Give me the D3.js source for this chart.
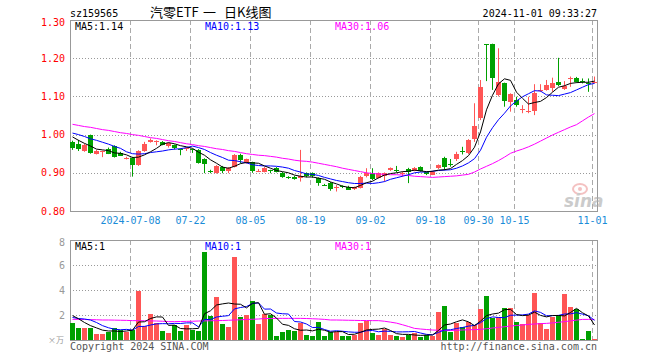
<!DOCTYPE html>
<html><head><meta charset="utf-8">
<script src="https://cdn.jsdelivr.net/npm/d3@7"></script>
<style>
html,body{margin:0;padding:0;background:#fff;}
svg{display:block;}
text{font-family:"DejaVu Sans Mono",monospace;}
</style></head><body>
<svg id="c" width="660" height="360"></svg>
<script>
const dates = ["06-24","06-25","06-26","06-27","06-28","07-01","07-02","07-03","07-04","07-05",
"07-08","07-09","07-10","07-11","07-12","07-15","07-16","07-17","07-18","07-19",
"07-22","07-23","07-24","07-25","07-26","07-29","07-30","07-31","08-01","08-02",
"08-05","08-06","08-07","08-08","08-09","08-12","08-13","08-14","08-15","08-16",
"08-19","08-20","08-21","08-22","08-23","08-26","08-27","08-28","08-29","08-30",
"09-02","09-03","09-04","09-05","09-06","09-09","09-10","09-11","09-12","09-13",
"09-18","09-19","09-20","09-23","09-24","09-25","09-26","09-27","09-30","10-08",
"10-09","10-10","10-11","10-14","10-15","10-16","10-17","10-18","10-21","10-22",
"10-23","10-24","10-25","10-28","10-29","10-30","10-31","11-01"];
const open  = [.981,.975,.958,.999,.950,.954,.963,.970,.953,.937,.938,.920,.957,.981,.980,.981,.968,.972,.962,.962,
.961,.960,.936,.904,.900,.916,.906,.916,.947,.926,.927,.904,.903,.907,.913,.900,.889,.890,.886,.899,
.899,.886,.869,.874,.861,.865,.864,.857,.861,.890,.899,.887,.890,.907,.908,.898,.910,.906,.915,.901,
.896,.912,.940,.923,.934,.956,.951,.988,1.043,1.236,1.237,1.104,1.134,1.086,1.091,1.066,1.061,1.062,1.116,1.117,
1.121,1.138,1.121,1.147,1.149,1.140,1.135,1.137];
const high  = [.984,.986,.976,1.000,.960,.958,.966,.972,.955,.942,.942,.959,.981,.990,.985,.983,.979,.974,.964,.966,
.963,.962,.938,.908,.920,.918,.915,.949,.950,.937,.929,.910,.915,.908,.915,.902,.891,.892,.960,.901,
.901,.888,.871,.876,.868,.867,.866,.864,.892,.912,.912,.901,.901,.914,.918,.903,.913,.915,.917,.903,
.905,.922,.942,.936,.955,.968,.988,1.082,1.143,1.237,1.238,1.226,1.136,1.108,1.099,1.077,1.099,1.132,1.132,1.143,
1.149,1.201,1.140,1.152,1.151,1.147,1.147,1.152];
const low   = [.960,.957,.955,.950,.948,.941,.949,.940,.944,.935,.890,.918,.955,.979,.972,.972,.966,.961,.946,.957,
.952,.924,.899,.899,.898,.899,.899,.914,.925,.924,.900,.902,.901,.899,.901,.887,.884,.882,.877,.888,
.887,.866,.866,.853,.851,.860,.855,.855,.859,.888,.881,.885,.877,.905,.901,.890,.873,.904,.903,.894,
.894,.910,.907,.916,.931,.948,.949,.981,1.038,1.140,1.117,1.100,1.073,1.060,1.073,1.056,1.056,1.051,1.112,1.115,
1.112,1.127,1.117,1.125,1.136,1.134,1.112,1.134];
const close = [.965,.963,.974,.951,.958,.956,.951,.942,.946,.939,.920,.957,.975,.986,.982,.974,.977,.963,.960,.964,
.958,.925,.922,.903,.918,.906,.913,.947,.934,.935,.903,.906,.913,.905,.903,.890,.888,.884,.892,.890,
.890,.874,.868,.859,.862,.864,.857,.862,.890,.899,.883,.899,.899,.912,.907,.900,.901,.913,.905,.896,
.903,.920,.916,.922,.948,.955,.986,1.023,1.125,1.234,1.147,1.138,1.086,1.106,1.077,1.067,1.063,1.108,1.118,1.130,
1.134,1.130,1.128,1.149,1.138,1.138,1.133,1.139];
const volume = [1.39,0.99,0.99,0.99,0.48,0.48,0.67,0.99,0.80,0.67,0.80,3.92,1.10,2.10,1.35,0.72,0.59,1.20,0.72,1.20,
0.80,0.72,7.07,1.92,3.47,1.28,1.07,6.67,1.81,2.00,3.15,1.28,2.05,2.00,0.32,0.67,0.80,0.72,1.39,0.40,
0.32,1.47,0.32,0.62,0.67,0.32,0.32,0.40,1.39,1.55,0.59,0.40,0.85,0.40,0.32,0.27,0.40,0.59,0.27,0.40,
0.32,2.27,2.72,0.67,1.33,1.07,1.47,1.20,2.48,3.52,1.73,1.81,2.59,2.59,1.47,1.28,2.00,3.79,1.33,0.85,
1.81,2.00,3.68,2.67,2.48,0.05,0.72,0.08];
const ma5 = [.994,.985,.977,.970,.962,.960,.958,.952,.951,.947,.940,.941,.947,.955,.964,.975,.979,.976,.971,.968,
.964,.954,.946,.934,.925,.915,.912,.917,.924,.927,.926,.925,.918,.912,.906,.903,.900,.894,.891,.889,
.889,.886,.883,.876,.871,.865,.862,.861,.867,.874,.878,.887,.894,.898,.900,.903,.904,.907,.905,.903,
.904,.907,.908,.911,.922,.932,.945,.967,1.007,1.065,1.103,1.133,1.146,1.142,1.111,1.095,1.080,1.084,1.087,1.097,
1.111,1.124,1.128,1.134,1.136,1.137,1.137,1.140];
const ma10 = [1.004,1.000,.995,.989,.985,.980,.975,.969,.964,.955,.950,.949,.950,.953,.955,.957,.960,.962,.963,.966,
.970,.966,.961,.953,.946,.940,.933,.932,.929,.926,.921,.919,.918,.918,.917,.915,.912,.906,.902,.897,
.896,.893,.888,.884,.880,.877,.874,.872,.872,.873,.872,.874,.877,.883,.887,.891,.895,.900,.902,.902,
.904,.906,.907,.908,.912,.918,.926,.937,.959,.993,1.018,1.039,1.056,1.075,1.088,1.099,1.107,1.115,1.114,1.104,
1.103,1.102,1.106,1.110,1.117,1.124,1.131,1.134];
const ma30 = [1.027,1.024,1.021,1.019,1.016,1.013,1.011,1.008,1.005,1.003,1.000,.998,.995,.992,.990,.987,.984,.982,.979,.976,
.974,.971,.969,.966,.963,.961,.958,.956,.953,.950,.948,.946,.945,.943,.941,.938,.936,.933,.931,.930,
.928,.925,.922,.919,.916,.912,.909,.906,.903,.900,.898,.897,.896,.895,.895,.894,.893,.891,.890,.889,
.888,.889,.890,.891,.892,.894,.896,.902,.910,.917,.924,.932,.941,.951,.957,.962,.968,.975,.983,.991,
.999,1.006,1.013,1.020,1.026,1.036,1.046,1.055];
const volMa5 = [1.95,1.70,1.40,1.15,0.97,0.79,0.72,0.72,0.68,0.72,0.79,1.44,1.46,1.72,1.85,1.84,1.17,1.19,0.92,0.89,
0.90,0.93,2.10,2.34,2.80,2.89,2.96,2.88,2.86,2.57,2.94,2.98,2.06,2.10,1.76,1.26,1.17,0.90,0.78,0.80,
0.73,0.86,0.78,0.62,0.67,0.67,0.44,0.46,0.62,0.80,0.85,0.87,0.96,0.76,0.51,0.45,0.45,0.40,0.37,0.39,
0.40,0.77,1.20,1.28,1.46,1.61,1.45,1.15,1.51,1.95,2.08,2.15,2.43,2.45,2.04,1.95,1.99,2.23,1.97,1.85,
1.96,1.96,1.93,2.20,2.53,2.18,1.92,1.20];
const volMa10 = [1.80,1.72,1.68,1.60,1.40,1.15,0.98,0.86,0.82,0.85,0.79,1.08,1.09,1.20,1.29,1.31,1.30,1.33,1.32,1.37,
1.37,1.05,1.65,1.63,1.84,1.90,1.95,2.49,2.60,2.68,2.92,2.97,2.47,2.48,2.16,2.10,2.08,1.48,1.44,1.28,
1.00,1.01,0.84,0.70,0.74,0.70,0.65,0.62,0.62,0.74,0.76,0.66,0.71,0.69,0.65,0.65,0.66,0.68,0.56,0.45,
0.42,0.61,0.80,0.82,0.92,1.00,1.11,1.17,1.39,1.71,1.85,1.80,1.79,1.98,1.99,2.01,2.07,2.33,2.21,1.94,
1.95,1.97,2.08,2.09,2.19,2.07,1.94,1.57];
const volMa30 = [1.65,1.65,1.64,1.63,1.62,1.60,1.60,1.59,1.58,1.57,1.55,1.55,1.54,1.53,1.52,1.50,1.47,1.47,1.48,1.49,
1.50,1.52,1.53,1.54,1.55,1.56,1.58,1.60,1.62,1.64,1.66,1.68,1.72,1.72,1.73,1.73,1.73,1.73,1.73,1.72,
1.70,1.68,1.65,1.60,1.60,1.59,1.58,1.57,1.56,1.56,1.55,1.55,1.50,1.43,1.35,1.22,1.08,0.93,0.88,0.84,
0.80,0.78,0.75,0.76,0.78,0.80,0.82,0.83,0.85,0.90,0.96,1.01,1.06,1.12,1.16,1.20,1.25,1.28,1.31,1.33,
1.37,1.42,1.47,1.53,1.59,1.65,1.65,1.65];
const priceTicks = [0.80,0.90,1.00,1.10,1.20,1.30];
const volTicks = [2,4,6,8];
const dateTicks = ["07-08","07-22","08-05","08-19","09-02","09-18","09-30","10-15","11-01"];
const dateTickLabels = ["2024-07-08","07-22","08-05","08-19","09-02","09-18","09-30","10-15","11-01"];

const RED = "#ff5555", GREEN = "#00a000", GRID = "#999", AXIS = "#999";
const svg = d3.select("#c");
const L = 70, R = 598;
const x = d3.scaleBand().domain(dates).range([L, R]).padding(0);
const yP = d3.scaleLinear().domain([0.80, 1.30]).range([211, 20]);
const yV = d3.scaleLinear().domain([0, 8]).range([340, 240]);
const bw = x.bandwidth() - 1;
const px = v => Math.round(v) + 0.5;

function panel(y0, y1, yScale, ticks) {
  const g = svg.append("g");
  g.selectAll("line.h").data(ticks).join("line")
    .attr("x1", L).attr("x2", R - 1)
    .attr("y1", d => px(yScale(d))).attr("y2", d => px(yScale(d)))
    .attr("stroke", GRID).attr("stroke-dasharray", "1,2");
  g.selectAll("line.v").data(dateTicks).join("line")
    .attr("x1", d => x(d) + 0.5).attr("x2", d => x(d) + 0.5)
    .attr("y1", y0).attr("y2", y1)
    .attr("stroke", "#aaa").attr("stroke-dasharray", "5,3");
  g.append("rect").attr("x", L + 0.5).attr("y", y0 + 0.5)
    .attr("width", R - L - 1).attr("height", y1 - y0)
    .attr("fill", "none").attr("stroke", AXIS);
}
panel(20, 211, yP, priceTicks.slice(1, 5));
panel(240, 340, yV, volTicks.slice(0, 3));

// sina watermark (behind the marks)
const wm = svg.append("g").attr("opacity", 0.6);
wm.append("ellipse").attr("cx", 580).attr("cy", 189).attr("rx", 7).attr("ry", 5).attr("fill", "none").attr("stroke", "#e99").attr("stroke-width", 2);
wm.append("circle").attr("cx", 580).attr("cy", 189).attr("r", 2).attr("fill", "#e99");
wm.append("text").attr("x", 564).attr("y", 207).attr("font-size", 17).attr("font-weight", "bold")
  .attr("font-style", "italic").style("font-family", "'DejaVu Sans',sans-serif").attr("fill", "#aaa").text("sina");

const idx = d3.range(dates.length);
const isUp = i => close[i] >= open[i];

const cg = svg.append("g");
cg.selectAll("line").data(idx).join("line")
  .attr("x1", i => x(dates[i]) + 2.5).attr("x2", i => x(dates[i]) + 2.5)
  .attr("y1", i => yP(high[i])).attr("y2", i => yP(low[i]))
  .attr("stroke", i => isUp(i) ? RED : GREEN);
cg.selectAll("rect").data(idx).join("rect")
  .attr("x", i => x(dates[i])).attr("width", bw)
  .attr("y", i => Math.round(yP(Math.max(open[i], close[i]))))
  .attr("height", i => Math.max(1, Math.round(Math.abs(yP(open[i]) - yP(close[i])))))
  .attr("fill", i => isUp(i) ? RED : GREEN)
  .attr("shape-rendering", "crispEdges");

svg.append("g").selectAll("rect").data(idx).join("rect")
  .attr("x", i => x(dates[i])).attr("width", bw)
  .attr("y", i => Math.round(yV(volume[i])))
  .attr("height", i => 340 - Math.round(yV(volume[i])))
  .attr("fill", i => isUp(i) ? RED : GREEN)
  .attr("shape-rendering", "crispEdges");

function maLine(arr, yScale, color) {
  const line = d3.line().x((d, i) => x(dates[i]) + 2.5).y(d => yScale(d));
  svg.append("path").datum(arr).attr("d", line)
    .attr("fill", "none").attr("stroke", color).attr("stroke-width", 1);
}
maLine(ma30, yP, "#ff00ff");
maLine(ma10, yP, "#0000ff");
maLine(ma5, yP, "#000");
maLine(volMa30, yV, "#ff00ff");
maLine(volMa10, yV, "#0000ff");
maLine(volMa5, yV, "#000");

svg.append("g").selectAll("text").data(priceTicks).join("text")
  .attr("x", 65).attr("y", d => yP(d) + (d === 1.30 ? 5.5 : 3.5))
  .attr("text-anchor", "end").attr("fill", "#f00").attr("font-size", 10)
  .text(d => d.toFixed(2));
svg.append("g").selectAll("text").data(volTicks).join("text")
  .attr("x", 65).attr("y", d => yV(d) + (d === 8 ? 5.5 : 3.5))
  .attr("text-anchor", "end").attr("fill", "#999").attr("font-size", 10)
  .text(d => d);
svg.append("text").attr("x", 64).attr("y", 343).attr("text-anchor", "end")
  .attr("fill", "#999").attr("font-size", 8)
  .style("font-family", "'Noto Sans CJK SC',sans-serif").text("×万");

svg.append("g").selectAll("text").data(dateTicks).join("text")
  .attr("x", d => x(d) + 0.5).attr("y", 224)
  .attr("text-anchor", "middle").attr("fill", "#1a8cd8").attr("font-size", 10)
  .text((d, i) => dateTickLabels[i]);

// header
svg.append("text").attr("x", 70).attr("y", 16.5).attr("font-size", 10).attr("fill", "#000").text("sz159565");
const titleParts = [["汽零ETF", 150], ["一", 203], ["日K线图", 224]];
svg.append("g").selectAll("text").data(titleParts).join("text")
  .attr("x", d => d[1]).attr("y", 17).attr("font-size", 13).attr("fill", "#000")
  .style("font-family", "'Noto Sans CJK SC',sans-serif").text(d => d[0]);
svg.append("text").attr("x", 597).attr("y", 16.5).attr("font-size", 10).attr("text-anchor", "end")
  .attr("fill", "#000").text("2024-11-01 09:33:27");

const legP = [["MA5:1.14", "#000", 75], ["MA10:1.13", "#0000ff", 205], ["MA30:1.06", "#ff00ff", 335]];
svg.append("g").selectAll("text").data(legP).join("text")
  .attr("x", d => d[2]).attr("y", 29.5).attr("font-size", 10).attr("fill", d => d[1]).text(d => d[0]);
const legV = [["MA5:1", "#000", 75], ["MA10:1", "#0000ff", 205], ["MA30:1", "#ff00ff", 335]];
svg.append("g").selectAll("text").data(legV).join("text")
  .attr("x", d => d[2]).attr("y", 249.5).attr("font-size", 10).attr("fill", d => d[1]).text(d => d[0]);

svg.append("text").attr("x", 70).attr("y", 349.5).attr("font-size", 10).attr("fill", "#555").text("Copyright 2024 SINA.COM");
svg.append("text").attr("x", 597).attr("y", 349.5).attr("font-size", 10).attr("text-anchor", "end")
  .attr("fill", "#555").text("http://finance.sina.com.cn");
</script>
</body></html>
